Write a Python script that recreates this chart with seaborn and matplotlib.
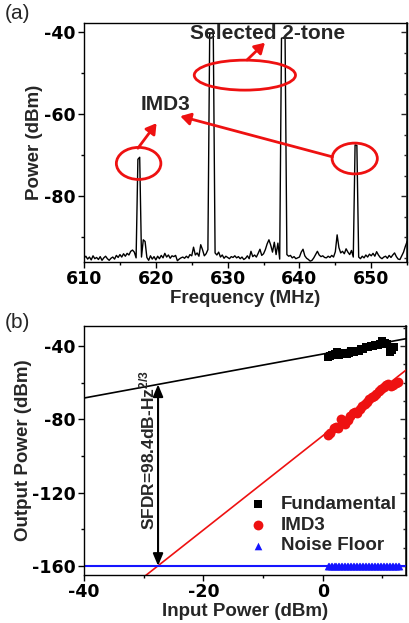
import numpy as np
import pandas as pd
import matplotlib
matplotlib.use("Agg")
import matplotlib.pyplot as plt
from matplotlib.patches import Ellipse
from matplotlib.ticker import MultipleLocator
import seaborn as sns

# ---------------- data: panel (a) spectrum ----------------
freq_start, freq_step = 610.0, 0.25
spectrum_dbm = [
    -95.0, -94.6, -95.3, -94.8, -95.5, -94.5, -95.2, -94.9,
    -95.4, -94.7, -95.6, -95.0, -94.6, -95.2, -95.6, -95.1,
    -94.8, -95.3, -94.4, -94.9, -94.2, -94.8, -94.0, -94.6,
    -93.9, -94.3, -93.4, -93.1, -93.6, -95.0, -71.0, -70.5,
    -94.8, -90.6, -91.0, -94.9, -95.6, -94.5, -95.3, -94.7,
    -95.5, -94.6, -95.2, -94.4, -95.0, -93.9, -94.8, -94.3,
    -95.1, -94.5, -94.7, -94.4, -95.7, -95.3, -95.0, -94.8,
    -95.1, -94.6, -95.0, -94.2, -94.5, -92.4, -94.3, -93.8,
    -94.6, -91.8, -93.0, -94.5, -94.0, -93.0, -40.5, -40.3,
    -40.5, -93.8, -94.3, -93.6, -94.8, -94.3, -95.1, -94.6,
    -94.9, -95.2, -94.7, -94.9, -94.5, -95.0, -94.7, -95.2,
    -94.8, -95.4, -95.1, -94.5, -95.2, -93.4, -94.7, -94.3,
    -94.8, -93.9, -92.9, -94.4, -94.0, -93.0, -91.6, -90.6,
    -91.9, -93.6, -91.2, -94.2, -91.4, -95.3, -41.5, -41.4,
    -41.6, -94.2, -94.6, -94.4, -95.0, -94.7, -95.2, -95.0,
    -94.8, -93.6, -92.9, -94.5, -95.1, -95.4, -95.8, -95.6,
    -95.0, -94.2, -93.4, -94.3, -94.7, -94.5, -94.9, -95.0,
    -94.6, -94.9, -94.4, -94.8, -93.5, -89.4, -92.5, -93.8,
    -93.4, -94.0, -92.8, -93.6, -94.2, -93.2, -94.8, -67.5,
    -67.6, -94.8, -95.2, -94.6, -95.0, -94.3, -94.8, -94.1,
    -94.5, -93.9, -94.6, -93.5, -94.3, -94.9, -95.2, -94.8,
    -94.6, -95.1, -94.4, -94.9, -94.3, -93.8, -94.7, -95.3,
    -95.4, -94.5, -93.6, -92.2, -91.0,
]
freq_mhz = freq_start + freq_step * np.arange(len(spectrum_dbm))

# ---------------- data: panel (b) ----------------
fund_in = [0.8, 1.2, 1.6, 2.0, 2.4, 2.8, 3.2, 3.6, 4.0, 4.4, 4.8, 5.2, 5.6, 6.0,
           6.4, 6.8, 7.2, 7.6, 8.0, 8.4, 8.8, 9.2, 9.6, 10.0, 10.4, 10.8, 11.2,
           11.6, 12.0]
fund_out = [-46.0, -45.5, -45.0, -44.5, -43.2, -44.8, -44.0, -44.3, -44.6, -44.0,
            -43.0, -43.5, -42.5, -42.8, -41.8, -41.5, -40.8, -40.5, -40.0, -39.8,
            -39.5, -39.2, -38.8, -37.5, -38.5, -38.8, -43.5, -42.0, -40.5]
imd3_in = [0.8, 1.2, 1.8, 2.2, 2.6, 3.0, 3.4, 3.8, 4.2, 4.6, 5.0, 5.4, 5.8, 6.2,
           6.6, 7.0, 7.4, 7.8, 8.2, 8.6, 9.0, 9.4, 9.8, 10.2, 10.6, 11.0, 11.4,
           11.8, 12.2, 12.6]
imd3_out = [-88.5, -87.5, -84.5, -84.0, -84.5, -80.0, -81.0, -82.5, -80.5, -78.0,
            -76.5, -76.0, -76.5, -74.5, -72.5, -71.5, -70.5, -69.0, -68.0, -67.5,
            -66.0, -64.5, -63.5, -62.5, -61.5, -61.0, -62.0, -61.5, -60.0, -59.5]
noise_in = list(np.arange(0.8, 12.9, 0.25))
noise_level = -160.0
noise_out = [noise_level] * len(noise_in)

fund_fit = (0.60, -44.4)     # slope, intercept
imd3_fit = (2.57, -89.0)
sfdr_x = -27.6
sfdr_label = "SFDR=98.4dB-Hz$^{\\mathbf{2/3}}$"

# ---------------- style ----------------
sns.set_theme(style="ticks")
plt.rcParams["font.family"] = ["Liberation Sans", "DejaVu Sans"]
plt.rcParams["font.weight"] = "bold"
plt.rcParams["axes.labelweight"] = "bold"
plt.rcParams["mathtext.default"] = "bf"
plt.rcParams["mathtext.fontset"] = "custom"
plt.rcParams["mathtext.bf"] = "Liberation Sans:bold"
plt.rcParams["axes.unicode_minus"] = False

fig = plt.figure(figsize=(4.10, 6.23), dpi=100)
ax1 = fig.add_axes([0.205, 0.5795, 0.788, 0.3836])
ax2 = fig.add_axes([0.205, 0.077, 0.786, 0.400])

TICK_FS = 12.5
LABEL_FS = 13.5

def style_axes(ax):
    for s in ax.spines.values():
        s.set_linewidth(1.0)
        s.set_color("black")
    ax.tick_params(axis="both", which="both", direction="out", labelsize=TICK_FS,
                   width=1.0, colors="black", top=False, right=False, pad=2)
    ax.tick_params(which="major", length=4)
    ax.tick_params(which="minor", length=2.5)
    for lab in ax.get_xticklabels() + ax.get_yticklabels():
        lab.set_fontweight("bold")
        lab.set_fontfamily("DejaVu Sans")
    sec = ax.secondary_yaxis("right")
    sec.tick_params(axis="y", which="both", direction="in", labelright=False,
                    width=1.0)
    sec.tick_params(which="major", length=4)
    sec.tick_params(which="minor", length=2.5)
    return sec

# ---------------- panel (a) ----------------
df_a = pd.DataFrame({"f": freq_mhz, "p": spectrum_dbm})
sns.lineplot(data=df_a, x="f", y="p", ax=ax1, color="black", lw=1.0,
             sort=False, estimator=None)
ax1.set_xlim(610, 655)
ax1.set_ylim(-96, -37.8)
ax1.xaxis.set_major_locator(MultipleLocator(10))
ax1.yaxis.set_major_locator(MultipleLocator(20))
ax1.xaxis.set_minor_locator(MultipleLocator(5))
ax1.yaxis.set_minor_locator(MultipleLocator(10))
ax1.set_xlabel("Frequency (MHz)", fontsize=LABEL_FS, fontweight="bold", labelpad=1)
ax1.set_ylabel("Power (dBm)", fontsize=LABEL_FS, fontweight="bold", labelpad=1)
sec1 = style_axes(ax1)
sec1.yaxis.set_major_locator(MultipleLocator(20))
sec1.yaxis.set_minor_locator(MultipleLocator(5))

red = "#ee1111"
for (cx, cy, w, h) in [(632.4, -50.5, 14.1, 7.3), (617.6, -72.0, 6.2, 7.8),
                       (647.7, -70.8, 6.3, 7.5)]:
    ax1.add_patch(Ellipse((cx, cy), w, h, fill=False, ec=red, lw=2.0, zorder=5))
arrow_kw = dict(arrowstyle="-|>,head_length=0.5,head_width=0.3", color=red, lw=2.0,
                shrinkA=0, shrinkB=0)
ax1.annotate("", xy=(635.2, -42.6), xytext=(632.7, -46.8), arrowprops=arrow_kw)
ax1.annotate("", xy=(620.1, -62.2), xytext=(617.5, -68.3), arrowprops=arrow_kw)
ax1.annotate("", xy=(623.4, -60.5), xytext=(644.6, -70.4), arrowprops=arrow_kw)
ax1.text(635.5, -40.3, "Selected 2-tone", ha="center", va="center",
         fontsize=15, fontweight="bold", zorder=6)
ax1.text(621.4, -57.6, "IMD3", ha="center", va="center", fontsize=15,
         fontweight="bold")
fig.text(0.043, 0.978, "(a)", fontsize=15, fontweight="normal", ha="center",
         va="center")

# ---------------- panel (b) ----------------
xl = np.array([-40, 14])
ax2.plot(xl, fund_fit[0] * xl + fund_fit[1], color="black", lw=1.2)
xi = np.array([-30.5, 14])
ax2.plot(xi, imd3_fit[0] * xi + imd3_fit[1], color=red, lw=1.2)
ax2.axhline(noise_level, color="#1515ff", lw=1.5)

sns.scatterplot(x=fund_in, y=fund_out, ax=ax2, marker="s", color="black", s=32,
                edgecolor="black", linewidth=0, label="Fundamental", zorder=4)
sns.scatterplot(x=imd3_in, y=imd3_out, ax=ax2, marker="o", color=red, s=50,
                edgecolor=red, linewidth=0, label="IMD3", zorder=4)
sns.scatterplot(x=noise_in, y=noise_out, ax=ax2, marker="^", color="#1515ff",
                s=30, edgecolor="#1515ff", linewidth=0, label="Noise Floor",
                zorder=4)

ax2.annotate("", xy=(sfdr_x, fund_fit[0] * sfdr_x + fund_fit[1]),
             xytext=(sfdr_x, noise_level),
             arrowprops=dict(arrowstyle="<|-|>,head_length=0.6,head_width=0.25",
                             color="black", lw=1.5, shrinkA=0, shrinkB=0))
ax2.text(-29.4, -96.7, sfdr_label, rotation=90, ha="center", va="center",
         fontsize=12.5, fontweight="bold")

ax2.set_xlim(-40, 14)
ax2.set_ylim(-165, -29)
ax2.xaxis.set_major_locator(MultipleLocator(20))
ax2.xaxis.set_minor_locator(MultipleLocator(10))
ax2.yaxis.set_major_locator(MultipleLocator(40))
ax2.yaxis.set_minor_locator(MultipleLocator(20))
ax2.set_xlabel("Input Power (dBm)", fontsize=LABEL_FS, fontweight="bold", labelpad=1)
ax2.set_ylabel("Output Power (dBm)", fontsize=LABEL_FS, fontweight="bold", labelpad=0)
sec2 = style_axes(ax2)
sec2.yaxis.set_major_locator(MultipleLocator(40))
sec2.yaxis.set_minor_locator(MultipleLocator(10))

leg = ax2.legend(loc="lower right", bbox_to_anchor=(1.0, 0.045), frameon=False,
                 prop={"weight": "bold", "size": 13.5}, handletextpad=0.6,
                 labelspacing=0.2, handlelength=1.2, markerscale=1.0,
                 borderaxespad=0.1)
fig.text(0.043, 0.482, "(b)", fontsize=15, fontweight="normal", ha="center",
         va="center")

fig.savefig("out.png", dpi=100)
